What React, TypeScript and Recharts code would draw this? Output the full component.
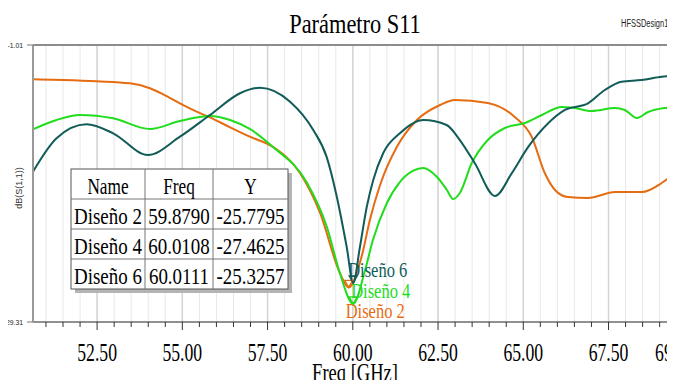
import React from "react";
import {
  LineChart,
  Line,
  XAxis,
  YAxis,
  CartesianGrid,
  ReferenceLine,
  ReferenceDot,
} from "recharts";

// ---- Data -------------------------------------------------------------
// Diseño 2 (orange)
const d2Freq = [50.62, 51.51, 52.49, 53.46, 54.05, 54.44, 54.93, 55.42, 55.81, 56.4, 56.98, 57.66, 58.45, 59.04, 59.62, 59.879, 60.27, 60.5, 60.8, 61.29, 61.88, 62.56, 62.99, 63.96, 64.75, 65.25, 65.63, 65.93, 66.31, 66.9, 67.69, 68.48, 69.06, 69.45];
const d2S11 = [-4.51, -4.59, -4.72, -4.92, -5.43, -6.05, -6.97, -7.82, -8.4, -9.42, -10.38, -11.43, -14.09, -18.17, -24.3, -25.7795, -22.46, -18.89, -15.31, -11.43, -8.67, -7.14, -6.63, -6.93, -8.37, -10.41, -14.09, -15.82, -16.54, -16.64, -16.03, -16.03, -15.11, -14.09];

// Diseño 4 (green)
const d4Freq = [50.62, 51.31, 52.0, 52.97, 54.05, 54.93, 55.81, 56.4, 56.98, 57.66, 58.66, 59.24, 59.62, 60.0108, 60.36, 60.59, 61.0, 61.38, 61.76, 62.06, 62.47, 62.76, 62.94, 63.14, 63.49, 63.96, 64.46, 65.05, 65.55, 66.13, 66.51, 67.01, 67.69, 67.98, 68.33, 68.66, 69.15, 69.45];
const d4S11 = [-9.62, -8.67, -8.16, -8.5, -9.59, -8.77, -8.26, -8.67, -9.59, -11.43, -15.11, -19.6, -24.3, -27.4625, -24.0, -20.93, -17.15, -15.01, -13.88, -13.58, -14.5, -15.82, -16.74, -16.13, -13.07, -10.72, -9.49, -8.98, -8.16, -7.34, -7.45, -7.75, -7.45, -7.65, -8.47, -7.86, -7.45, -7.34];

// Diseño 6 (dark teal)
const d6Freq = [50.62, 51.31, 52.19, 52.97, 53.99, 54.93, 55.81, 56.69, 56.98, 57.28, 58.16, 58.84, 59.23, 59.53, 59.82, 60.0111, 60.21, 60.41, 60.6, 60.89, 61.38, 62.07, 62.75, 63.14, 63.58, 64.17, 64.66, 65.15, 65.73, 66.22, 66.9, 67.39, 67.88, 68.47, 69.06, 69.45];
const d6S11 = [-13.95, -10.54, -9.11, -10.03, -12.25, -10.38, -8.16, -5.94, -5.54, -5.37, -6.8, -9.69, -12.42, -16.51, -21.62, -25.3257, -21.62, -17.53, -14.8, -12.07, -10.03, -8.67, -9.18, -10.72, -13.1, -16.44, -14.12, -11.4, -9.01, -7.65, -6.97, -5.61, -4.76, -4.59, -4.25, -4.15];

// Markers (minimum of each curve)
const markerNames = ["Diseño 2", "Diseño 4", "Diseño 6"];
const markerFreq = [59.879, 60.0108, 60.0111];
const markerY = [-25.7795, -27.4625, -25.3257];

// Axes
const xDomain: [number, number] = [50.62, 69.45];
const xMajorTicks = [52.5, 55, 57.5, 60, 62.5, 65, 67.5];
const xEndTick = 69.45;
const yDomain: [number, number] = [-29.31, -1.01];
const yTicks = [-29.31, -1.01];
const yTickLabels = ["29.31", "-1.01"];

// ---- Styling ----------------------------------------------------------
const SERIF = "'Liberation Serif', 'Times New Roman', serif";
const SANS = "'Liberation Sans', Arial, sans-serif";
const COLORS = ["#E66C12", "#22DC1E", "#115C58"];

const toSeries = (f: number[], v: number[]) => f.map((x, i) => ({ f: x, v: v[i] }));
const series = [
  { name: markerNames[0], data: toSeries(d2Freq, d2S11), color: COLORS[0] },
  { name: markerNames[1], data: toSeries(d4Freq, d4S11), color: COLORS[1] },
  { name: markerNames[2], data: toSeries(d6Freq, d6S11), color: COLORS[2] },
];

// minor ticks every 0.5 GHz plus the end-of-range value
const xAllTicks: number[] = [];
for (let k = 102; k <= 138; k++) xAllTicks.push(k / 2);
xAllTicks.push(xEndTick);

// horizontally condensed text
const Sq = ({ x, y, size, sx, anchor = "middle", fill = "#000", family = SERIF, rotate = 0, weight = "normal", children }: any) => (
  <text
    transform={`translate(${x},${y}) rotate(${rotate}) scale(${sx},1)`}
    fontSize={size}
    fontFamily={family}
    fontWeight={weight}
    textAnchor={anchor}
    fill={fill}
  >
    {children}
  </text>
);

const XTick = (props: any) => {
  const { x, y, payload } = props;
  const v = payload.value as number;
  const isLabel = xMajorTicks.includes(v) || v === xEndTick;
  return (
    <g>
      <line x1={x} x2={x} y1={y} y2={y + (isLabel ? 8 : 5)} stroke="#333" strokeWidth={1} />
      {isLabel && (
        <Sq x={x} y={y + 39} size={26} sx={0.68}>
          {v.toFixed(2)}
        </Sq>
      )}
    </g>
  );
};

const YTick = (props: any) => {
  const { x, y, payload } = props;
  const idx = yTicks.indexOf(payload.value);
  return (
    <Sq x={x - 2} y={y + 3} size={8} sx={0.85} anchor="end" family={SANS} fill="#222">
      {yTickLabels[idx]}
    </Sq>
  );
};

const labelOffsets = [
  { dx: -3, dy: 30.5 },
  { dx: -2, dy: -6 },
  { dx: -5, dy: -6 },
];

const makeMarker = (i: number) => (p: any) => {
  const { cx, cy } = p;
  const c = COLORS[i];
  return (
    <g>
      <path d={`M${cx},${cy} L${cx - 4},${cy - 7} L${cx + 4},${cy - 7} Z`} fill="none" stroke={c} strokeWidth={1.3} />
      <Sq x={cx + labelOffsets[i].dx} y={cy + labelOffsets[i].dy} size={22} sx={0.75} anchor="start" fill={c}>
        {markerNames[i]}
      </Sq>
    </g>
  );
};

// ---- Marker table ----------------------------------------------------
const TBL = { x: 71, y: 169, colW: [74, 68, 75], rowH: 30 };
const MarkerTable = () => {
  const w = TBL.colW.reduce((a, b) => a + b, 0);
  const rows = [["Name", "Freq", "Y"], ...markerNames.map((n, i) => [n, markerFreq[i].toFixed(4), markerY[i].toFixed(4)])];
  const h = rows.length * TBL.rowH;
  const colX = [TBL.x, TBL.x + TBL.colW[0], TBL.x + TBL.colW[0] + TBL.colW[1], TBL.x + w];
  return (
    <g>
      <rect x={TBL.x + 4} y={TBL.y + 4} width={w} height={h} fill="#b4b4b4" />
      <rect x={TBL.x} y={TBL.y} width={w} height={h} fill="#fff" stroke="#555" strokeWidth={1} />
      {[1, 2].map((c) => (
        <line key={c} x1={colX[c]} x2={colX[c]} y1={TBL.y} y2={TBL.y + h} stroke="#777" />
      ))}
      {[1, 2, 3].map((r) => (
        <line key={r} x1={TBL.x} x2={TBL.x + w} y1={TBL.y + r * TBL.rowH} y2={TBL.y + r * TBL.rowH} stroke="#777" />
      ))}
      {rows.map((row, r) =>
        row.map((cell, c) => (
          <Sq key={`${r}-${c}`} x={(colX[c] + colX[c + 1]) / 2} y={TBL.y + (r + 1) * TBL.rowH - 5} size={24} sx={r === 0 ? 0.72 : 0.79}>
            {cell}
          </Sq>
        ))
      )}
    </g>
  );
};

export default function App() {
  return (
    <div style={{ margin: -8, width: 675, height: 388, overflow: "hidden", position: "relative", background: "#fff" }}>
      <LineChart width={715} height={388} margin={{ top: 45, right: 40, bottom: 0, left: 0 }}>
        <CartesianGrid horizontal={false} stroke="#e8e8e8" strokeWidth={1} />
        {xMajorTicks.map((t) => (
          <ReferenceLine key={t} x={t} stroke="#d4d4d4" strokeWidth={1.5} />
        ))}
        <ReferenceLine y={yDomain[1]} stroke="#8c8c8c" strokeWidth={2} />
        <XAxis
          type="number"
          dataKey="f"
          domain={xDomain}
          ticks={xAllTicks}
          interval={0}
          allowDataOverflow
          height={66}
          tickSize={0}
          tickMargin={0}
          tickLine={false}
          axisLine={{ stroke: "#222", strokeWidth: 1 }}
          tick={<XTick />}
        />
        <YAxis
          type="number"
          dataKey="v"
          domain={yDomain}
          ticks={yTicks}
          interval={0}
          allowDataOverflow
          width={33}
          tickSize={6}
          tickLine={{ stroke: "#777" }}
          axisLine={{ stroke: "#999", strokeWidth: 2 }}
          tick={<YTick />}
        />
        {series.map((s) => (
          <Line
            key={s.name}
            data={s.data}
            dataKey="v"
            name={s.name}
            type="monotone"
            stroke={s.color}
            strokeWidth={2}
            dot={false}
            isAnimationActive={false}
          />
        ))}
        {markerNames.map((n, i) => (
          <ReferenceDot key={n} x={markerFreq[i]} y={markerY[i]} r={0} ifOverflow="visible" shape={makeMarker(i)} />
        ))}
      </LineChart>
      <svg width={675} height={388} style={{ position: "absolute", left: 0, top: 0, pointerEvents: "none" }}>
        <Sq x={355} y={33} size={28} sx={0.8}>Parámetro S11</Sq>
        <Sq x={621} y={27} size={11} sx={0.68} anchor="start" family={SANS} fill="#222">HFSSDesign1</Sq>
        <Sq x={22} y={188} size={9} sx={1} rotate={-90} family={SANS} fill="#333">dB(S(1,1))</Sq>
        <Sq x={355} y={381} size={25} sx={0.74}>Freq [GHz]</Sq>
        <MarkerTable />
      </svg>
    </div>
  );
}
